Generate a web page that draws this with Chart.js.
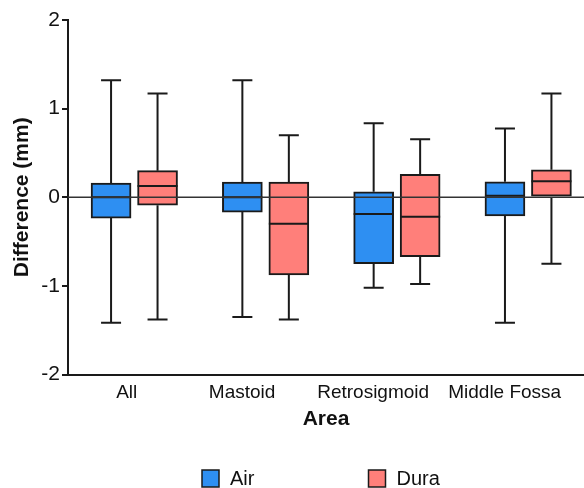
<!DOCTYPE html>
<html>
<head>
<meta charset="utf-8">
<script src="https://cdn.jsdelivr.net/npm/chart.js@4.4.1/dist/chart.umd.min.js"></script>
<style>
  html, body { margin: 0; padding: 0; background: #fff; overflow: hidden; }
  #wrap { width: 584px; height: 488px; }
</style>
</head>
<body>
<div id="wrap"><canvas id="myChart"></canvas></div>
<script>
// Data
let categories = ['All', 'Mastoid', 'Retrosigmoid', 'Middle Fossa'];
let seriesNames = ['Air', 'Dura'];

let airMin    = [-1.415, -1.35, -1.02, -1.415];
let airQ1     = [-0.235, -0.167, -0.75, -0.21];
let airMedian = [0.0, 0.0, -0.19, 0.017];
let airQ3     = [0.16, 0.17, 0.062, 0.175];
let airMax    = [1.32, 1.32, 0.835, 0.776];

let duraMin    = [-1.38, -1.38, -0.98, -0.75];
let duraQ1     = [-0.09, -0.875, -0.67, 0.0];
let duraMedian = [0.126, -0.30, -0.22, 0.18];
let duraQ3     = [0.30, 0.17, 0.26, 0.31];
let duraMax    = [1.17, 0.70, 0.655, 1.17];

let yTicks = [-2, -1, 0, 1, 2];

// Layout / style
let fontFamily = '"Liberation Sans", Arial, sans-serif';
let airColor = '#2E8FF2';
let duraColor = '#FF7F7A';
let lineColor = '#1a1a1a';
let airShift = -0.172;
let duraShift = 0.182;
let labelShift = [-0.053, -0.174, -0.176, -0.174];

let canvas = document.getElementById('myChart').getContext('2d');

function boxData(q1, q3, shift) {
    return categories.map((c, i) => ({ x: i + shift, y: [q1[i], q3[i]] }));
}

let stats = [
    { min: airMin, med: airMedian, max: airMax, q1: airQ1, q3: airQ3 },
    { min: duraMin, med: duraMedian, max: duraMax, q1: duraQ1, q3: duraQ3 }
];

// whiskers, medians, zero line and legend
let boxPlotExtras = {
    id: 'boxPlotExtras',
    afterDatasetsDraw(chart) {
        let ctx = chart.ctx;
        let y = chart.scales.y;
        let area = chart.chartArea;
        ctx.save();
        ctx.strokeStyle = lineColor;
        ctx.lineCap = 'butt';
        stats.forEach((s, d) => {
            let meta = chart.getDatasetMeta(d);
            meta.data.forEach((bar, i) => {
                let x = bar.x;
                let half = bar.width / 2;
                ctx.lineWidth = 2;
                ctx.beginPath();
                // upper whisker
                ctx.moveTo(x, y.getPixelForValue(s.q3[i]));
                ctx.lineTo(x, y.getPixelForValue(s.max[i]));
                ctx.moveTo(x - 10, y.getPixelForValue(s.max[i]));
                ctx.lineTo(x + 10, y.getPixelForValue(s.max[i]));
                // lower whisker
                ctx.moveTo(x, y.getPixelForValue(s.q1[i]));
                ctx.lineTo(x, y.getPixelForValue(s.min[i]));
                ctx.moveTo(x - 10, y.getPixelForValue(s.min[i]));
                ctx.lineTo(x + 10, y.getPixelForValue(s.min[i]));
                // median
                ctx.moveTo(x - half, y.getPixelForValue(s.med[i]));
                ctx.lineTo(x + half, y.getPixelForValue(s.med[i]));
                ctx.stroke();
            });
        });
        // zero line
        let y0 = y.getPixelForValue(0);
        ctx.lineWidth = 1.5;
        ctx.strokeStyle = '#333';
        ctx.beginPath();
        ctx.moveTo(area.left, y0);
        ctx.lineTo(area.right, y0);
        ctx.stroke();
        ctx.restore();
    },
    afterDraw(chart) {
        let ctx = chart.ctx;
        let legendX = [202, 368.5];
        let legendY = 478.5;
        ctx.save();
        ctx.font = '20px ' + fontFamily;
        ctx.textBaseline = 'middle';
        ctx.textAlign = 'left';
        seriesNames.forEach((name, d) => {
            let ds = chart.data.datasets[d];
            ctx.fillStyle = ds.backgroundColor;
            ctx.fillRect(legendX[d], legendY - 8.5, 17, 17);
            ctx.lineWidth = 1.5;
            ctx.strokeStyle = lineColor;
            ctx.strokeRect(legendX[d], legendY - 8.5, 17, 17);
            ctx.fillStyle = '#111';
            ctx.fillText(name, legendX[d] + 28, legendY + 1);
        });
        ctx.restore();
    }
};

let myChart = new Chart(canvas, {
    type: 'bar',
    data: {
        datasets: [
            {
                label: seriesNames[0],
                data: boxData(airQ1, airQ3, airShift),
                backgroundColor: airColor,
                borderColor: lineColor,
                borderWidth: 2,
                borderSkipped: false,
                barThickness: 40,
                grouped: false
            },
            {
                label: seriesNames[1],
                data: boxData(duraQ1, duraQ3, duraShift),
                backgroundColor: duraColor,
                borderColor: lineColor,
                borderWidth: 2,
                borderSkipped: false,
                barThickness: 40,
                grouped: false
            }
        ]
    },
    options: {
        responsive: true,
        maintainAspectRatio: false,
        animation: false,
        layout: { padding: { top: 20, right: 0, bottom: 56.5, left: 0 } },
        plugins: {
            legend: { display: false },
            tooltip: { enabled: false }
        },
        scales: {
            x: {
                type: 'linear',
                min: -0.5,
                max: 3.43,
                offset: false,
                grid: { display: false, drawTicks: false, offset: false },
                border: { display: true, color: lineColor, width: 2 },
                afterBuildTicks: (axis) => {
                    axis.ticks = categories.map((c, i) => ({ value: i + labelShift[i] }));
                },
                afterFit: (axis) => { axis.height = 57; },
                ticks: {
                    autoSkip: false,
                    maxRotation: 0,
                    padding: 7,
                    color: '#111',
                    font: { family: fontFamily, size: 19 },
                    callback: (value, index) => categories[index]
                },
                title: {
                    display: true,
                    text: 'Area',
                    color: '#111',
                    padding: { top: 0, bottom: 0 },
                    font: { family: fontFamily, size: 21, weight: 'bold' }
                }
            },
            y: {
                min: -2,
                max: 2,
                afterBuildTicks: (axis) => {
                    axis.ticks = yTicks.map(v => ({ value: v }));
                },
                afterFit: (axis) => { axis.width = 68; },
                grid: {
                    drawOnChartArea: false,
                    drawTicks: true,
                    tickLength: 6,
                    color: lineColor,
                    lineWidth: 2
                },
                border: { display: true, color: lineColor, width: 2 },
                ticks: {
                    padding: 2,
                    color: '#111',
                    font: { family: fontFamily, size: 21 }
                },
                title: {
                    display: true,
                    text: 'Difference (mm)',
                    color: '#111',
                    padding: { top: 10, bottom: 0 },
                    font: { family: fontFamily, size: 21, weight: 'bold' }
                }
            }
        }
    },
    plugins: [boxPlotExtras]
});
</script>
</body>
</html>
